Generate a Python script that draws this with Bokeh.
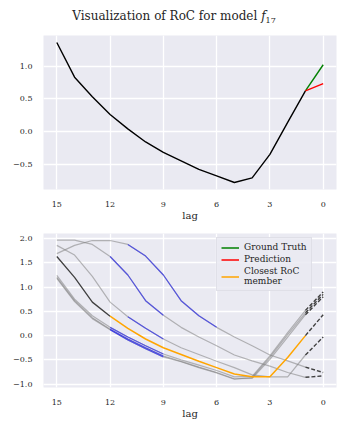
from bokeh.plotting import figure
from bokeh.models import Range1d, FixedTicker, Div, Legend, LegendItem, ColumnDataSource, CustomJSTickFormatter
from bokeh.layouts import column
from bokeh.embed import file_html
from bokeh.resources import INLINE

# ---------------- data ----------------
lags = list(range(15, -1, -1))            # 15 ... 0
x_ticks = [15, 12, 9, 6, 3, 0]

# top panel: history (lags 15..1), then ground truth and prediction at lag 0
history = [1.36, 0.83, 0.53, 0.26, 0.04, -0.16, -0.32, -0.45, -0.58, -0.68,
           -0.78, -0.71, -0.35, 0.14, 0.62]
ground_truth = 1.02
prediction = 0.73
top_yticks = [-0.5, 0.0, 0.5, 1.0]

# bottom panel: RoC members (values at lags 15..0)
query_series = [1.63, 1.20, 0.69, 0.40, 0.15, -0.07, -0.25, -0.39, -0.53, -0.66,
                -0.79, -0.85, -0.85, -0.45, 0.00, 0.43]
member_a = [1.97, 1.97, 1.88, 1.63, 1.25, 0.72, 0.42, 0.17, -0.03, -0.21,
            -0.40, -0.52, -0.63, -0.76, -0.86, -0.83]
member_b = [1.86, 1.66, 1.22, 0.69, 0.39, 0.15, -0.07, -0.25, -0.39, -0.53,
            -0.66, -0.81, -0.85, -0.85, -0.40, -0.03]
member_c = [1.69, 1.86, 1.96, 1.96, 1.88, 1.64, 1.25, 0.72, 0.41, 0.17,
            -0.03, -0.21, -0.40, -0.52, -0.65, -0.76]
member_d = [1.24, 0.75, 0.41, 0.17, -0.03, -0.21, -0.38, -0.50, -0.61, -0.72,
            -0.85, -0.84, -0.42, 0.06, 0.52, 0.90]
member_e = [1.18, 0.70, 0.35, 0.12, -0.09, -0.27, -0.44, -0.54, -0.66, -0.77,
            -0.90, -0.86, -0.45, 0.02, 0.47, 0.85]
member_f = [1.20, 0.72, 0.37, 0.13, -0.07, -0.25, -0.42, -0.53, -0.65, -0.76,
            -0.89, -0.88, -0.49, -0.03, 0.43, 0.80]
members = [member_a, member_b, member_c, member_d, member_e, member_f]
# matched windows (first lag, last lag) drawn in blue
windows = [(12, 9), (11, 9), (11, 6), (12, 9), (12, 9), (12, 9)]
query_window = (15, 12)
closest_span = (12, 1)
bottom_yticks = [-1.0, -0.5, 0.0, 0.5, 1.0, 1.5, 2.0]
legend_labels = ["Ground Truth", "Prediction", "Closest RoC\nmember"]

# ---------------- style ----------------
FONT = "DejaVu Serif"
TXT = "#262626"
BG = "#eaeaf2"
DARK = "#404040"

fmt = CustomJSTickFormatter(code="return (tick < 0 ? '\\u2212' : '') + Math.abs(tick).toFixed(1);")


def style(p, yticks):
    p.background_fill_color = BG
    p.border_fill_color = "white"
    p.outline_line_color = None
    p.xaxis.ticker = FixedTicker(ticks=x_ticks)
    p.yaxis.ticker = FixedTicker(ticks=yticks)
    p.yaxis.formatter = fmt
    for ax in p.axis:
        ax.axis_line_color = None
        ax.major_tick_line_color = None
        ax.minor_tick_line_color = None
        ax.major_label_text_font = FONT
        ax.major_label_text_font_size = "8px"
        ax.major_label_text_color = TXT
        ax.axis_label_text_font = FONT
        ax.axis_label_text_font_size = "10px"
        ax.axis_label_text_font_style = "normal"
        ax.axis_label_text_color = TXT
    p.xaxis.axis_label = "lag"
    p.xaxis.major_label_standoff = 6
    p.xaxis.axis_label_standoff = 0
    p.yaxis.major_label_standoff = 5
    p.grid.grid_line_color = "white"
    p.grid.grid_line_width = 1.3


W = 332
title = Div(text='<div style="font-family:\'DejaVu Serif\';font-size:12px;color:#262626;'
                 'text-align:center;width:332px;line-height:10px;">'
                 'Visualization of RoC for model <i>f</i><sub style="font-size:8px;">17</sub></div>',
            width=W, height=16, margin=0)

# ---- top panel ----
p1 = figure(width=W, height=200, output_backend="svg", toolbar_location=None,
            x_range=Range1d(15.75, -0.75), y_range=Range1d(-0.887, 1.467),
            min_border_left=35, min_border_right=4, min_border_top=11, min_border_bottom=35)
style(p1, top_yticks)
p1.line(lags[:15], history, color="black", line_width=1.4)
p1.line([lags[14], lags[15]], [history[-1], ground_truth], color="green", line_width=1.4)
p1.line([lags[14], lags[15]], [history[-1], prediction], color="red", line_width=1.4)

# ---- bottom panel ----
p2 = figure(width=W, height=199, output_backend="svg", toolbar_location=None,
            x_range=Range1d(15.75, -0.75), y_range=Range1d(-1.07, 2.105),
            min_border_left=35, min_border_right=4, min_border_top=9, min_border_bottom=36)
style(p2, bottom_yticks)


def seg(vals, a, b):
    i, j = lags.index(a), lags.index(b)
    return lags[i:j + 1], vals[i:j + 1]


for m in members:
    xs, ys = seg(m, 15, 1)
    p2.line(xs, ys, color="#808080", line_alpha=0.55, line_width=1.2)
for m, (a, b) in zip(members, windows):
    xs, ys = seg(m, a, b)
    p2.line(xs, ys, color="#3030ee", line_alpha=0.72, line_width=1.2)
xs, ys = seg(query_series, *query_window)
p2.line(xs, ys, color=DARK, line_width=1.3)
xs, ys = seg(query_series, *closest_span)
p2.line(xs, ys, color="orange", line_width=1.5)
for m in members + [query_series]:
    xs, ys = seg(m, 1, 0)
    p2.line(xs, ys, color=DARK, line_width=1.4, line_dash="4 2")

src_leg = ColumnDataSource(data=dict(x=[lags[-1]], y=[float("nan")]))
r_gt = p2.line("x", "y", source=src_leg, color="green", line_width=1.5)
r_pr = p2.line("x", "y", source=src_leg, color="red", line_width=1.5)
r_cl = p2.line("x", "y", source=src_leg, color="orange", line_width=1.5)
legend = Legend(items=[LegendItem(label=legend_labels[0], renderers=[r_gt]),
                       LegendItem(label=legend_labels[1], renderers=[r_pr]),
                       LegendItem(label=legend_labels[2], renderers=[r_cl])],
                location=(173, 96))
legend.label_text_font = FONT
legend.label_text_font_size = "9px"
legend.label_text_color = TXT
legend.label_height = 9
legend.glyph_height = 9
legend.glyph_width = 18
legend.spacing = 2
legend.padding = 4
legend.margin = 0
legend.label_standoff = 5
legend.background_fill_color = BG
legend.background_fill_alpha = 0.85
legend.border_line_color = "#d4d4dc"
legend.border_line_width = 1
p2.add_layout(legend)

layout = column(title, p1, p2, spacing=0, margin=(8, 0, 0, 8))
open("out.html", "w").write(file_html(layout, INLINE))
